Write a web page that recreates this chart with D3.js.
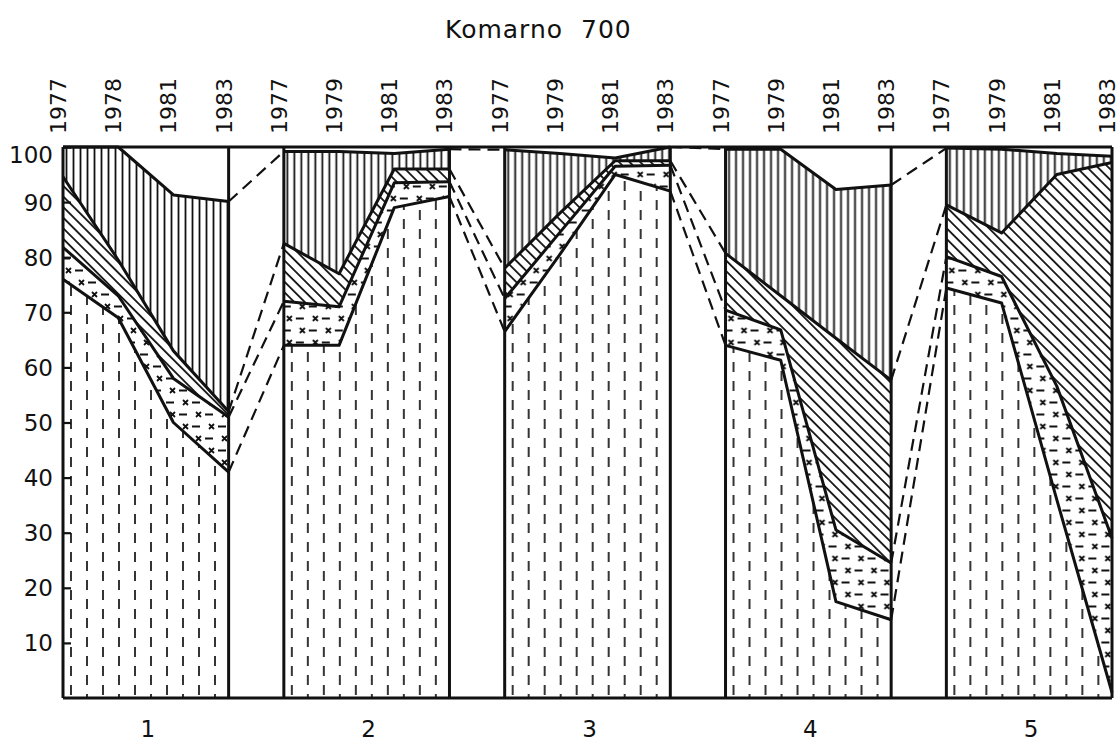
<!DOCTYPE html>
<html><head><meta charset="utf-8">
<script src="https://cdn.jsdelivr.net/npm/d3@7"></script>
<style>
body{margin:0;background:#fff}
text{font-family:"DejaVu Sans",sans-serif;fill:#111}
</style>
</head><body>
<svg id="c" width="1120" height="742"></svg>
<script>
// ---- data ----
const title = "Komarno\u00a0\u00a0700";
const panels = ["1", "2", "3", "4", "5"];
const yearLabels = [
  ["1977", "1978", "1981", "1983"],
  ["1977", "1979", "1981", "1983"],
  ["1977", "1979", "1981", "1983"],
  ["1977", "1979", "1981", "1983"],
  ["1977", "1979", "1981", "1983"]
];
const yTicks = [10, 20, 30, 40, 50, 60, 70, 80, 90, 100];
// shares (%) per panel, per year – bottom to top
const dashedShare = [
  [76, 69, 50, 41],
  [64, 64, 89, 91],
  [66.5, 80.5, 95, 92],
  [64, 61.3, 17.5, 14.2],
  [74.4, 71.7, 36, 1]
];
const crossShare = [
  [5.8, 4, 8, 10],
  [8, 7, 4.5, 2.7],
  [6, 4, 1.5, 4.7],
  [6.4, 5.5, 13, 10.3],
  [5.7, 4.8, 20.6, 28]
];
const hatchShare = [
  [12.8, 6.5, 5, 1],
  [10.5, 6, 2.5, 2.3],
  [5.5, 3.5, 1, 0.8],
  [10.3, 6.2, 34.8, 33.2],
  [9.4, 7.9, 38.4, 68.2]
];
const verticalShare = [
  [5.4, 20.5, 28.3, 38.1],
  [16.7, 22.2, 2.8, 3.6],
  [21.5, 10.8, 0.5, 2.5],
  [18.9, 26.6, 27, 35.4],
  [10.3, 15.2, 3.8, 1.1]
];

// ---- build ----
const keys = ["dashed", "cross", "hatch", "vertical"];
const seriesData = {dashed: dashedShare, cross: crossShare, hatch: hatchShare, vertical: verticalShare};
const svg = d3.select("#c");
const x = d3.scaleBand().domain(panels).range([63, 1112]).paddingInner(0.25).paddingOuter(0);
const inner = d3.scalePoint().domain([0, 1, 2, 3]).range([0, x.bandwidth()]);
const y = d3.scaleLinear().domain([0, 100]).range([698, 147]);
const yTop = y(100), yBot = y(0);

const defs = svg.append("defs");
const pd = defs.append("pattern").attr("id", "pDashed").attr("patternUnits", "userSpaceOnUse")
  .attr("width", 32).attr("height", 19);
pd.append("path").attr("d", "M8,1V11M24,10V20M24,-9V1").attr("stroke", "#111").attr("stroke-width", 1.7);
const pc = defs.append("pattern").attr("id", "pCross").attr("patternUnits", "userSpaceOnUse")
  .attr("width", 26).attr("height", 24);
pc.append("path").attr("d",
  "M3,4L8,9M8,4L3,9M12,6.5H20" +
  "M16,16L21,21M21,16L16,21M25,18.5H33M-1,18.5H7")
  .attr("stroke", "#111").attr("stroke-width", 1.8).attr("fill", "none");
const ph = defs.append("pattern").attr("id", "pHatch").attr("patternUnits", "userSpaceOnUse")
  .attr("width", 7.5).attr("height", 10).attr("patternTransform", "rotate(-45)");
ph.append("path").attr("d", "M3.75,-1V11").attr("stroke", "#111").attr("stroke-width", 1.8);
const pv = defs.append("pattern").attr("id", "pVertical").attr("patternUnits", "userSpaceOnUse")
  .attr("width", 7).attr("height", 10);
pv.append("path").attr("d", "M3.5,-1V11").attr("stroke", "#111").attr("stroke-width", 1.8);

const fills = {dashed: "url(#pDashed)", cross: "url(#pCross)", hatch: "url(#pHatch)", vertical: "url(#pVertical)"};

const stacks = panels.map((p, pi) => {
  const rows = [0, 1, 2, 3].map(i => {
    const r = {i};
    keys.forEach(k => r[k] = seriesData[k][pi][i]);
    return r;
  });
  return d3.stack().keys(keys)(rows);
});

const gPanels = svg.append("g");
panels.forEach((p, pi) => {
  const x0 = x(p);
  const g = gPanels.append("g").attr("transform", `translate(${x0},0)`);
  const area = d3.area().x(d => inner(d.data.i)).y0(d => y(d[0])).y1(d => y(d[1]));
  const line = d3.line().x(d => inner(d.data.i)).y(d => y(d[1]));
  stacks[pi].forEach(s => {
    g.append("path").attr("d", area(s)).attr("fill", fills[s.key]).attr("stroke", "none");
  });
  stacks[pi].forEach(s => {
    g.append("path").attr("d", line(s)).attr("fill", "none").attr("stroke", "#111")
      .attr("stroke-width", 3).attr("stroke-linejoin", "round");
  });
  [0, x.bandwidth()].forEach(px => {
    g.append("line").attr("x1", px).attr("x2", px).attr("y1", yTop).attr("y2", yBot)
      .attr("stroke", "#111").attr("stroke-width", 3);
  });
  yearLabels[pi].forEach((yl, i) => {
    g.append("text").attr("transform", `translate(${inner(i) + 3},134) rotate(-90)`)
      .attr("font-size", 22).attr("text-anchor", "start").text(yl);
  });
  svg.append("text").attr("x", x0 + x.bandwidth() / 2 + 2).attr("y", 737)
    .attr("text-anchor", "middle").attr("font-size", 23).text(p);
});

const conn = svg.append("g");
for (let pi = 0; pi < panels.length - 1; pi++) {
  keys.forEach((k, ki) => {
    const a = stacks[pi][ki][3], b = stacks[pi + 1][ki][0];
    const pts = [[x(panels[pi]) + inner(3), y(a[1])], [x(panels[pi + 1]) + inner(0), y(b[1])]];
    conn.append("path").attr("d", d3.line()(pts)).attr("fill", "none").attr("stroke", "#111")
      .attr("stroke-width", 2.2).attr("stroke-dasharray", "12,7");
  });
}

svg.append("line").attr("x1", 63).attr("x2", 1112).attr("y1", yTop).attr("y2", yTop)
  .attr("stroke", "#111").attr("stroke-width", 3);
svg.append("line").attr("x1", 63).attr("x2", 1112).attr("y1", yBot).attr("y2", yBot)
  .attr("stroke", "#111").attr("stroke-width", 3);

const ax = svg.append("g").attr("transform", "translate(63,0)")
  .call(d3.axisLeft(y).tickValues(yTicks).tickSize(-8).tickPadding(10));
ax.select(".domain").remove();
ax.selectAll(".tick line").attr("stroke", "#111").attr("stroke-width", 2.2);
ax.selectAll(".tick text").attr("font-size", 23).attr("font-family", "DejaVu Sans")
  .attr("fill", "#111").attr("dy", d => d === 100 ? "0.68em" : "0.35em");

svg.append("text").attr("x", 445).attr("y", 38).attr("font-size", 25)
  .attr("letter-spacing", 1).text(title);
</script>
</body></html>
